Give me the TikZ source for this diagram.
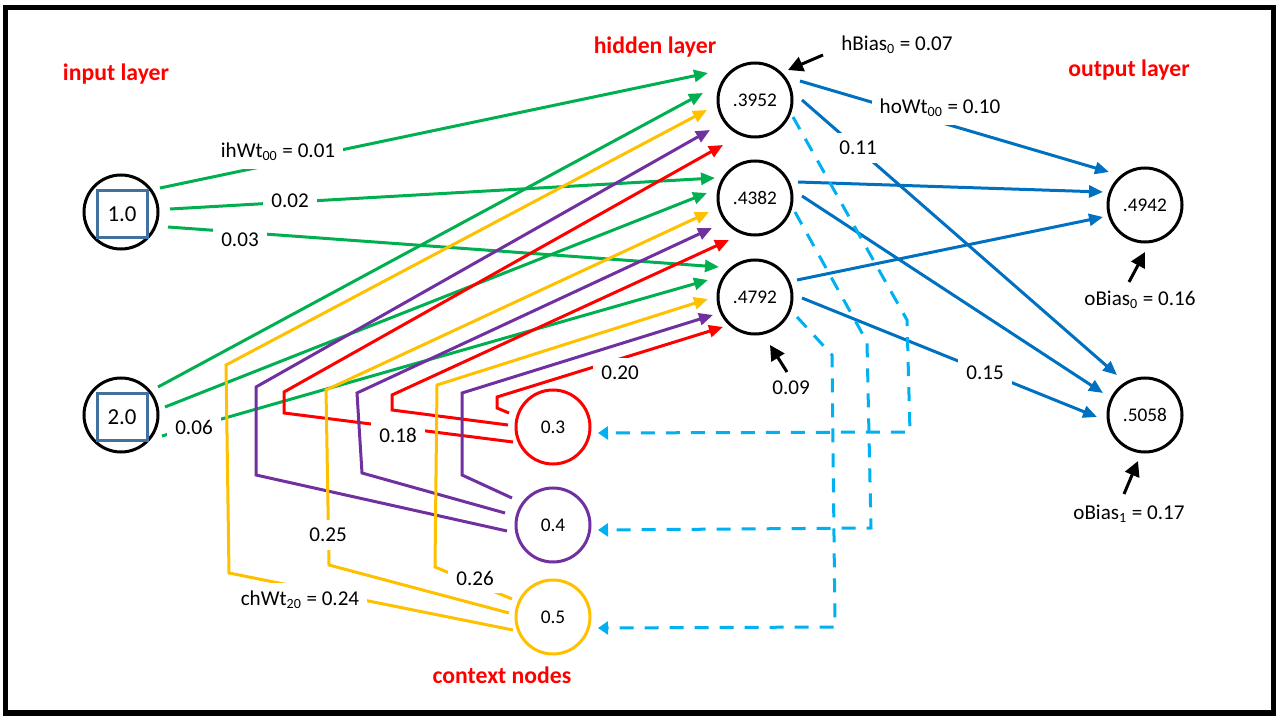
\documentclass[tikz,border=0pt]{standalone}
\usepackage{fontspec}
\setmainfont{Carlito}
\usetikzlibrary{arrows.meta,calc}

\begin{document}
\begin{tikzpicture}[x=0.2mm,y=-0.2mm,
  neuron/.style={circle,draw=#1,line width=0.6mm,minimum size=14.8mm,inner sep=0pt,font=\fontsize{11}{13}\selectfont},
  neuron/.default=black,
  inbox/.style={draw=csq,line width=0.6mm,minimum width=10mm,minimum height=9.4mm,inner sep=0pt,font=\fontsize{13}{15}\selectfont},
  title/.style={text=cttl,font=\fontsize{13.5}{16}\selectfont\bfseries},
  wlbl/.style={fill=white,inner xsep=1.6mm,inner ysep=1.6mm,font=\fontsize{12}{14}\selectfont},
  wire/.style={line width=0.6mm,color=#1,-{Triangle[length=2.8mm,width=2.4mm]}},
  back/.style={line width=0.6mm,color=cdl,dash pattern=on 2.8mm off 2.2mm,-{Triangle[length=2mm,width=2.6mm]}},
  bias/.style={line width=0.6mm,black,-{Triangle[length=3mm,width=3mm]}}]
%
\useasboundingbox (0,0) rectangle (1280,720);
%
\definecolor{cg}{RGB}{0,176,80}
\definecolor{cr}{RGB}{255,0,0}
\definecolor{cp}{RGB}{112,48,160}
\definecolor{cy}{RGB}{255,192,0}
\definecolor{cb}{RGB}{0,112,192}
\definecolor{cdl}{RGB}{0,176,240}
\definecolor{csq}{RGB}{65,113,156}
\definecolor{cttl}{RGB}{255,0,0}
%
\draw[line width=1.1mm] (5.5,7.5) rectangle (1273.5,713);
%
\node[title] (tin) at (116,74) {input layer};
\node[title] (thid) at (655,47) {hidden layer};
\node[title] (tout) at (1129,70) {output layer};
\node[title] (tctx) at (502,675) {context nodes};
%
\node[neuron] (in1) at (121,212) {};
\node[inbox] (sq1) at (122,214) {1.0};
\node[neuron] (in2) at (121,415) {};
\node[inbox] (sq2) at (122,417) {2.0};
\node[neuron] (h0) at (755,100) {.3952};
\node[neuron] (h1) at (755,198) {.4382};
\node[neuron] (h2) at (755,297) {.4792};
\node[neuron] (o0) at (1145,205) {.4942};
\node[neuron] (o1) at (1145,415) {.5058};
\node[neuron=cr] (c0) at (553,427) {0.3};
\node[neuron=cp] (c1) at (553,525) {0.4};
\node[neuron=cy] (c2) at (553,617) {0.5};
%
\draw[wire=cg] ($(in1)+(39,-24)$) -- ($(h0)+(-47,-27)$);
\draw[wire=cg] ($(in1)+(49,-3)$) -- ($(h1)+(-40,-20)$);
\draw[wire=cg] ($(in1)+(47,15)$) -- ($(h2)+(-36,-30)$);
\draw[wire=cg] ($(in2)+(37,-28)$) -- ($(h0)+(-52,-7)$);
\draw[wire=cg] ($(in2)+(44,-8)$) -- ($(h1)+(-48,-5)$);
\draw[wire=cg] ($(in2)+(41,21)$) -- ($(h2)+(-47,-17)$);
%
\draw[wire=cr] ($(c0)+(-40,15)$) -- (284,413) -- (284,392) -- ($(h0)+(-32,45)$);
\draw[wire=cr] ($(c0)+(-45,-2)$) -- (392,410) -- (392,395) -- ($(h1)+(-26,42)$);
\draw[wire=cr] ($(c0)+(-44,-14)$) -- (497,408) -- (497,397) -- ($(h2)+(-32,30)$);
\draw[wire=cp] ($(c1)+(-46,6)$) -- (256,475) -- (256,387) -- ($(h0)+(-45,30)$);
\draw[wire=cp] ($(c1)+(-48,-12)$) -- (362,473) -- (357,393) -- ($(h1)+(-43,30)$);
\draw[wire=cp] ($(c1)+(-41,-27)$) -- (462,475) -- (462,393) -- ($(h2)+(-42,18)$);
\draw[wire=cy] ($(c2)+(-40,13)$) -- (229,573) -- (226,365) -- ($(h0)+(-48,10)$);
\draw[wire=cy] ($(c2)+(-44,-4)$) -- (329,565) -- (326,390) -- ($(h1)+(-46,14)$);
\draw[wire=cy] ($(c2)+(-41,-18)$) -- (435,567) -- (437,385) -- ($(h2)+(-47,2)$);
%
\draw[wire=cb] ($(h0)+(45,-19)$) -- ($(o0)+(-36,-33)$);
\draw[wire=cb] ($(h0)+(47,0)$) -- ($(o1)+(-28,-40)$);
\draw[wire=cb] ($(h1)+(43,-16)$) -- ($(o0)+(-42,-13)$);
\draw[wire=cb] ($(h1)+(47,-2)$) -- ($(o1)+(-42,-22)$);
\draw[wire=cb] ($(h2)+(42,-17)$) -- ($(o0)+(-42,12)$);
\draw[wire=cb] ($(h2)+(47,1)$) -- ($(o1)+(-48,2)$);
%
\draw[back] ($(h0)+(38,17)$) -- (907,320) -- (910,432) -- ($(c0)+(45,6)$);
\draw[back] ($(h1)+(40,14)$) -- (867,342) -- (871,528) -- ($(c1)+(45,5)$);
\draw[back] ($(h2)+(42,20)$) -- (832,355) -- (835,627) -- ($(c2)+(45,11)$);
%
\draw[bias] ($(h0)+(68,-45)$) -- ($(h0)+(33,-30)$);
\draw[bias] ($(h2)+(32,75)$) -- ($(h2)+(15,48)$);
\draw[bias] ($(o0)+(-16,77)$) -- ($(o0)+(0,47)$);
\draw[bias] ($(o1)+(-21,79)$) -- ($(o1)+(-7,46)$);
%
\node[wlbl] (w00) at (278,152) {ihWt\textsubscript{00} = 0.01};
\node[wlbl] (w01) at (290,201) {0.02};
\node[wlbl] (w02) at (240,240) {0.03};
\node[wlbl] (w12) at (194,427) {0.06};
\node[wlbl] (w18) at (398,435) {0.18};
\node[wlbl] (w20) at (620,373) {0.20};
\node[wlbl] (w25) at (328,535) {0.25};
\node[wlbl] (w26) at (475,578) {0.26};
\node[wlbl] (w24) at (300,600) {chWt\textsubscript{20} = 0.24};
\node[wlbl] (v00) at (940,108) {hoWt\textsubscript{00} = 0.10};
\node[wlbl] (v01) at (858,148) {0.11};
\node[wlbl] (v21) at (985,373) {0.15};
\node[wlbl] (hb0) at (897,45) {hBias\textsubscript{0} = 0.07};
\node[wlbl] (hb2) at (791,388) {0.09};
\node[wlbl] (ob0) at (1140,300) {oBias\textsubscript{0} = 0.16};
\node[wlbl] (ob1) at (1129,514) {oBias\textsubscript{1} = 0.17};
%
\end{tikzpicture}
\end{document}
